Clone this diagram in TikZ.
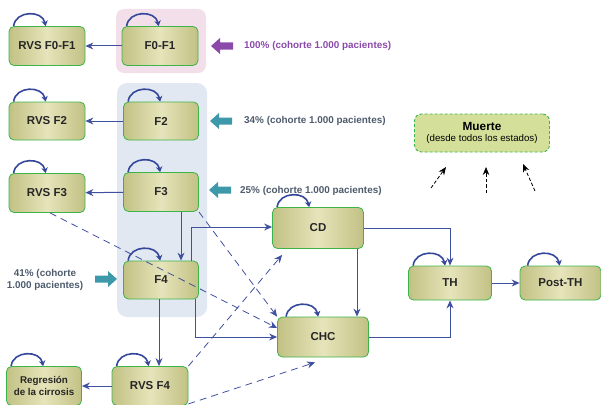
\documentclass[tikz,border=0pt]{standalone}
\usepackage{fontspec}
\setmainfont{Liberation Sans}
\usetikzlibrary{arrows.meta,calc}
\definecolor{nodegreen}{HTML}{3CB44A}
\definecolor{oliveA}{HTML}{C2C184}
\definecolor{oliveB}{HTML}{E6E4BA}
\definecolor{arrblue}{HTML}{4050A0}
\definecolor{loopblue}{HTML}{34479A}
\definecolor{tealarr}{HTML}{3D98AA}
\definecolor{purp}{HTML}{8B4AAA}
\definecolor{pcttext}{HTML}{4E5B6D}
\definecolor{pinkbg}{HTML}{F2DFEA}
\definecolor{bluebg}{HTML}{E2E8F2}
\definecolor{muertefill}{HTML}{D4E09A}
\newcommand\myloop[1]{\draw[loopst] ([xshift=5pt]#1.north west) .. controls +(2,-16) and +(-3,-16) .. ([xshift=37pt]#1.north west);}
\begin{document}
\begin{tikzpicture}[x=1pt,y=-1pt,
  state/.style={draw=nodegreen, line width=0.8pt, rounded corners=5pt,
    left color=oliveA, right color=oliveA, middle color=oliveB,
    inner sep=0pt, minimum width=76pt, minimum height=39pt,
    font=\bfseries\fontsize{11.5}{13}\selectfont, text=black!85, align=center},
  smallstate/.style={state, font=\bfseries\fontsize{9.8}{11.5}\selectfont},
  flow/.style={draw=arrblue, line width=1pt, -{Stealth[length=8pt,width=7pt]}},
  dflow/.style={draw=arrblue, line width=0.8pt, dash pattern=on 7pt off 5pt, -{Stealth[length=8pt,width=7pt]}},
  death/.style={draw=black, line width=0.8pt, dash pattern=on 3.5pt off 2pt, -{Stealth[length=8pt,width=6.5pt]}},
  loopst/.style={draw=loopblue, line width=1.6pt, -{Stealth[length=5.5pt,width=6.5pt]}},
  pct/.style={anchor=west, inner sep=0pt, font=\bfseries\fontsize{9.9}{12}\selectfont, text=pcttext}
]
\useasboundingbox (0,0) rectangle (601,404);
% backgrounds
\fill[pinkbg, rounded corners=8pt] (116,9) rectangle (206,73);
\fill[bluebg, rounded corners=10pt] (117,83) rectangle (207,317);
% nodes
\node[state] (rvs01) at (47,46) {RVS F0-F1};
\node[state] (f01) at (160,46) {F0-F1};
\node[state, minimum height=38pt] (rvsf2) at (47,121) {RVS F2};
\node[state, minimum width=75pt, minimum height=38pt] (f2) at (161,121) {F2};
\node[state] (rvsf3) at (47,193) {RVS F3};
\node[state, minimum width=75pt] (f3) at (161,192) {F3};
\node[state, minimum width=75pt, minimum height=38pt] (f4) at (161,280) {F4};
\node[state] (rvsf4) at (150,386) {RVS F4};
\node[smallstate, minimum width=75pt] (reg) at (44,386) {Regresión\\de la cirrosis};
\node[state, minimum width=91pt, minimum height=41pt] (cd) at (318,228) {CD};
\node[state, minimum width=91pt, minimum height=40pt] (chc) at (323,337) {CHC};
\node[state, minimum width=83pt, minimum height=34pt] (th) at (450,283) {TH};
\node[state, minimum width=81pt, minimum height=34pt] (postth) at (560.5,283) {Post-TH};
\node[draw=nodegreen, fill=muertefill, line width=0.9pt, dash pattern=on 3pt off 2pt,
  rounded corners=7pt, minimum width=135pt, minimum height=38pt, inner sep=0pt, align=center]
  (muerte) at (482,133) {{\bfseries\fontsize{11.8}{13}\selectfont Muerte}\\[-0.5pt]{\fontsize{9.7}{11}\selectfont (desde todos los estados)}};
% self loops
\foreach \n in {rvs01,f01,rvsf2,f2,rvsf3,f3,f4,rvsf4,reg,cd,th}{\myloop{\n}}
\draw[loopst] ([xshift=9pt]chc.north west) .. controls +(2,-16) and +(-3,-16) .. ([xshift=41pt]chc.north west);
\draw[loopst] ([xshift=8pt]postth.north west) .. controls +(2,-16) and +(-3,-16) .. ([xshift=40pt]postth.north west);
% solid flows
\draw[flow] (f01) -- (rvs01);
\draw[flow] (f2) -- (rvsf2);
\draw[flow] (f3) -- (rvsf3);
\draw[flow] ([xshift=20pt]f3.south) -- ([xshift=20pt]f4.north);
\draw[flow] ([xshift=30pt]f4.north) |- ([yshift=1pt]cd.west);
\draw[flow] ([xshift=34pt]f4.south) |- (chc.west);
\draw[flow] ([xshift=-2pt]f4.south) -- ([xshift=-2pt]f4.south |- rvsf4.north);
\draw[flow] (rvsf4) -- (reg);
\draw[flow] ([xshift=39pt]cd.south) -- ([xshift=39pt]cd.south |- chc.north);
\draw[flow] (cd.east) -| (th.north);
\draw[flow] (chc.east) -| (th.south);
\draw[flow] (th) -- (postth);
% dashed flows
\draw[dflow] ([xshift=3pt]rvsf3.south) -- ([yshift=9pt]chc.west);
\draw[dflow] (f3.south east) -- (chc.north west);
\draw[dflow] (rvsf4.north east) -- ([shift={(10pt,-6pt)}]cd.south west);
\draw[dflow] ([yshift=2pt]rvsf4.south east) -- ([shift={(-8pt,-5pt)}]chc.south);
% death arrows
\coordinate (d1a) at (431,188); \coordinate (d1b) at (446,167);
\coordinate (d2a) at (486,193); \coordinate (d2b) at (486,167);
\coordinate (d3a) at (535,191); \coordinate (d3b) at (523,164);
\draw[death] (d1a) -- (d1b);
\draw[death] (d2a) -- (d2b);
\draw[death] (d3a) -- (d3b);
% block arrows (pointing left)
\fill[purp] (211,46) -- (220,38) -- (220,42.5) -- (233,42.5) -- (233,49.5) -- (220,49.5) -- (220,54) -- cycle;
\fill[tealarr] (210,121) -- (219,113) -- (219,117.5) -- (232,117.5) -- (232,124.5) -- (219,124.5) -- (219,129) -- cycle;
\fill[tealarr] (209,190) -- (218,182) -- (218,186.5) -- (231,186.5) -- (231,193.5) -- (218,193.5) -- (218,198) -- cycle;
% block arrow pointing right
\fill[tealarr] (117,279) -- (108,271) -- (108,275.5) -- (95,275.5) -- (95,282.5) -- (108,282.5) -- (108,287) -- cycle;
% percentage labels
\node[pct, text=purp] (p100) at (244,46) {100\% (cohorte 1.000 pacientes)};
\node[pct] (p34) at (244,121) {34\% (cohorte 1.000 pacientes)};
\node[pct] (p25) at (240,191) {25\% (cohorte 1.000 pacientes)};
\node[pct, anchor=center, align=center, font=\bfseries\fontsize{9.9}{12.5}\selectfont] (p41) at (45,280) {41\% (cohorte\\1.000 pacientes)};
\end{tikzpicture}
\end{document}
